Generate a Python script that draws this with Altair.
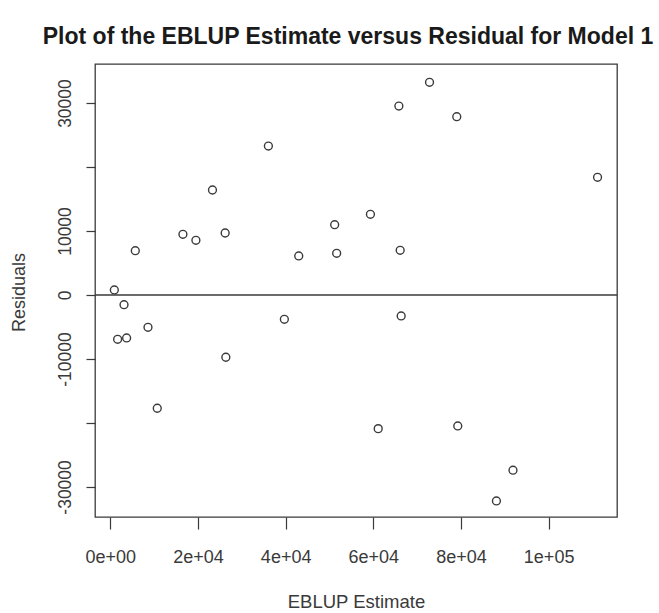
import altair as alt
import pandas as pd

# EBLUP estimate (x) and residuals (y)
eblup = [911, 3121, 1663, 3713, 8588, 5695, 10706, 16560, 19522, 23303,
         26196, 26355, 36059, 39704, 42984, 51185, 51640, 59339, 61116, 65831,
         66128, 66355, 72825, 79043, 79271, 88087, 91868, 111162]
resid = [781, -1516, -6922, -6719, -5047, 6922, -17703, 9484, 8547, 16406,
         9688, -9734, 23281, -3797, 6094, 10984, 6516, 12609, -20891, 29531,
         6984, -3281, 33234, 27859, -20469, -32188, -27391, 18391]

x_ticks = [0, 20000, 40000, 60000, 80000, 100000]
x_labels = ["0e+00", "2e+04", "4e+04", "6e+04", "8e+04", "1e+05"]
y_ticks = [-30000, -20000, -10000, 0, 10000, 20000, 30000]
y_labels = ["-30000", "", "-10000", "0", "10000", "", "30000"]

df = pd.DataFrame({"x": eblup, "y": resid})


def label_expr(vals, labels):
    v = "[" + ",".join(str(a) for a in vals) + "]"
    l = "[" + ",".join("'" + s + "'" for s in labels) + "]"
    return f"{l}[indexof({v}, datum.value)]"


FONT = "Liberation Sans"
INK = "#3a3a3a"

x_scale = alt.Scale(domain=[-3500, 115600], nice=False, zero=False)
y_scale = alt.Scale(domain=[-34700, 36100], nice=False, zero=False)

x_axis = alt.Axis(
    values=x_ticks, labelExpr=label_expr(x_ticks, x_labels), grid=False,
    domain=False, tickSize=12, tickColor=INK, tickWidth=1.2,
    labelFont=FONT, labelFontSize=18, labelColor=INK, labelPadding=19,
    labelFlush=False, labelOverlap=False,
    title="EBLUP Estimate", titleFont=FONT, titleFontSize=18.5,
    titleFontWeight="normal", titleColor=INK, titleY=84,
    titleBaseline="middle",
)
y_axis = alt.Axis(
    values=y_ticks, labelExpr=label_expr(y_ticks, y_labels), grid=False,
    domain=False, tickSize=9, tickColor=INK, tickWidth=1.2,
    labelFont=FONT, labelFontSize=17.5, labelColor=INK, labelPadding=21,
    labelAngle=270, labelAlign="center", labelBaseline="middle",
    labelFlush=False, labelOverlap=False,
    title="Residuals", titleFont=FONT, titleFontSize=18,
    titleFontWeight="normal", titleColor=INK, titleX=-76, titleY=228,
    titleAngle=270, titleAlign="center", titleBaseline="middle",
)

points = alt.Chart(df).mark_point(
    shape="circle", filled=False, size=62, strokeWidth=1.4, color=INK, opacity=1
).encode(
    x=alt.X("x:Q", scale=x_scale, axis=x_axis),
    y=alt.Y("y:Q", scale=y_scale, axis=y_axis),
)

zero_line = alt.Chart(pd.DataFrame({"y": [0]})).mark_rule(
    color=INK, strokeWidth=1.3
).encode(y=alt.Y("y:Q", scale=y_scale))

chart = (zero_line + points).properties(
    width=522, height=453,
    title=alt.TitleParams(
        "Plot of the EBLUP Estimate versus Residual for Model 1",
        font=FONT, fontSize=23, fontWeight="bold", color="#1a1a1a",
        anchor="middle", offset=-3, baseline="alphabetic", dx=-8,
    ),
    autosize=alt.AutoSizeParams(type="none"),
    padding={"left": 95, "top": 64, "right": 42, "bottom": 96},
).configure(background="white").configure_view(stroke=INK, strokeWidth=1.3)

chart.save("out.html", embed_options={"renderer": "svg", "actions": False})
